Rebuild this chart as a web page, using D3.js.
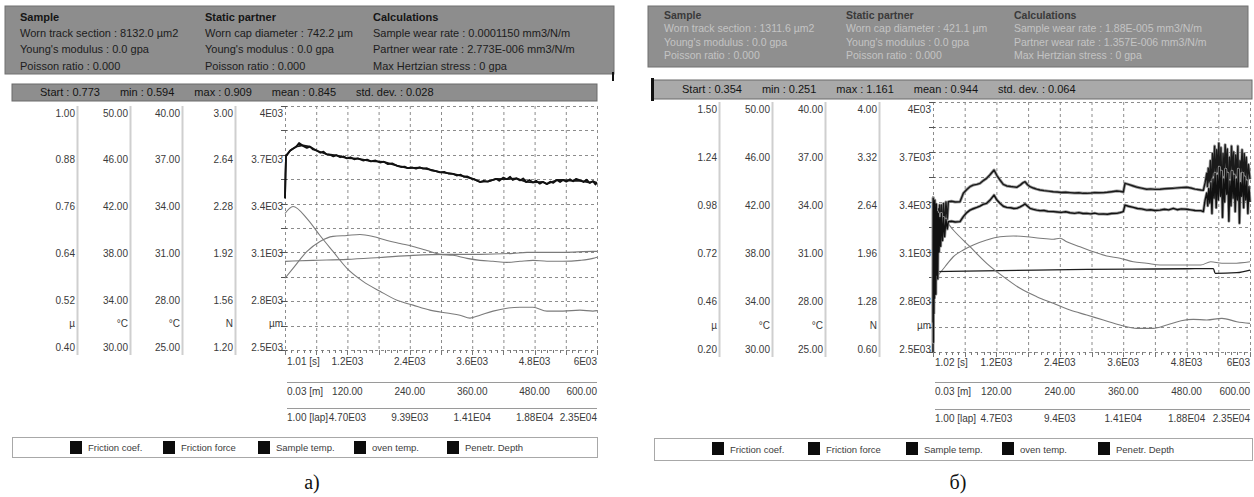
<!DOCTYPE html>
<html>
<head>
<meta charset="utf-8">
<script src="https://cdn.jsdelivr.net/npm/d3@7"></script>
<style>
  body { margin: 0; background: #fff; }
  svg text { font-family: "Liberation Sans", Arial, sans-serif; }
</style>
</head>
<body>
<svg id="chart" width="1254" height="497"></svg>
<script>
// ---------- shared ----------
const seriesNames = ["Friction coef.", "Friction force", "Sample temp.", "oven temp.", "Penetr. Depth"];
const colUnits = ["\u00b5", "\u00b0C", "\u00b0C", "N", "\u00b5m"];
const timeTicks = [0, 1200, 2400, 3600, 4800, 6000];
const distLabels = ["0.03 [m]", "120.00", "240.00", "360.00", "480.00", "600.00"];

// ---------- test a) ----------
const aHeader = [
  ["Sample", "Worn track section : 8132.0 \u00b5m2", "Young's modulus : 0.0 gpa", "Poisson ratio : 0.000"],
  ["Static partner", "Worn cap diameter : 742.2 \u00b5m", "Young's modulus : 0.0 gpa", "Poisson ratio : 0.000"],
  ["Calculations", "Sample wear rate : 0.0001150 mm3/N/m", "Partner wear rate : 2.773E-006 mm3/N/m", "Max Hertzian stress : 0 gpa"]
];
const aStats = ["Start : 0.773", "min : 0.594", "max : 0.909", "mean : 0.845", "std. dev. : 0.028"];
const aColCoef = ["0.40", "0.52", "0.64", "0.76", "0.88", "1.00"];
const aColSample = ["30.00", "34.00", "38.00", "42.00", "46.00", "50.00"];
const aColOven = ["25.00", "28.00", "31.00", "34.00", "37.00", "40.00"];
const aColForce = ["1.20", "1.56", "1.92", "2.28", "2.64", "3.00"];
const aColDepth = ["2.5E03", "2.8E03", "3.1E03", "3.4E03", "3.7E03", "4E03"];
const aTimeLabels = ["1.01 [s]", "1.2E03", "2.4E03", "3.6E03", "4.8E03", "6E03"];
const aLapLabels = ["1.00 [lap]", "4.70E03", "9.39E03", "1.41E04", "1.88E04", "2.35E04"];

// [time s, value]
const aFrictionCoef = [
  [0,0.773],[10,0.832],[20,0.878],[60,0.884],[96,0.890],[150,0.895],[210,0.899],[270,0.909],[346,0.902],
  [420,0.897],[480,0.900],[540,0.893],[615,0.890],[680,0.885],[740,0.888],[800,0.881],[865,0.880],
  [930,0.876],[990,0.879],[1060,0.874],[1130,0.876],[1192,0.871],[1260,0.874],[1330,0.869],[1400,0.871],
  [1500,0.866],[1580,0.868],[1650,0.864],[1740,0.866],[1827,0.861],[1900,0.863],[1980,0.857],[2060,0.859],
  [2154,0.853],[2230,0.850],[2300,0.851],[2365,0.847],[2440,0.849],[2520,0.846],[2590,0.849],[2654,0.846],
  [2730,0.847],[2810,0.842],[2900,0.840],[2981,0.837],[3060,0.838],[3140,0.834],[3231,0.833],[3300,0.829],
  [3380,0.831],[3440,0.826],[3500,0.827],[3580,0.822],[3650,0.819],[3750,0.813],[3820,0.816],[3900,0.814],
  [4000,0.818],[4060,0.821],[4120,0.816],[4200,0.824],[4269,0.820],[4330,0.826],[4380,0.818],[4450,0.822],
  [4519,0.817],[4580,0.822],[4640,0.813],[4700,0.818],[4769,0.812],[4830,0.816],[4900,0.809],[4960,0.813],
  [5038,0.808],[5100,0.814],[5160,0.811],[5230,0.818],[5290,0.813],[5346,0.818],[5410,0.814],[5480,0.820],
  [5540,0.815],[5600,0.821],[5673,0.817],[5740,0.813],[5800,0.819],[5860,0.811],[5923,0.815],[5970,0.807],[6000,0.811]
];
const aFrictionForce = [
  [0,2.319],[10,2.50],[20,2.63],[96,2.67],[210,2.70],[346,2.71],[480,2.70],[615,2.67],[800,2.645],
  [990,2.635],[1192,2.615],[1400,2.612],[1650,2.594],[1900,2.588],[2154,2.560],[2365,2.542],[2590,2.546],
  [2810,2.528],[2981,2.512],[3231,2.500],[3440,2.480],[3650,2.458],[3750,2.440],[3900,2.444],[4060,2.462],
  [4269,2.460],[4450,2.466],[4640,2.440],[4769,2.437],[4960,2.440],[5038,2.425],[5230,2.454],[5346,2.454],
  [5540,2.447],[5673,2.450],[5860,2.435],[5923,2.445],[6000,2.433]
];
const aSampleTemp = [
  [0,35.88],[154,36.69],[423,38.08],[673,38.90],[923,39.31],[1192,39.39],[1442,39.47],[1692,39.31],
  [1962,38.98],[2212,38.73],[2462,38.49],[2731,38.16],[2981,37.84],[3231,37.76],[3500,37.51],[3750,37.35],
  [4000,37.27],[4269,37.18],[4519,37.27],[4769,37.35],[5038,37.27],[5346,37.27],[5673,37.35],[5923,37.51],[6000,37.60]
];
const aOvenTemp = [
  [0,30.45],[538,30.51],[1192,30.57],[1827,30.69],[2462,30.82],[3115,30.88],[3750,30.88],[4385,30.94],
  [4654,31.00],[5346,31.00],[5923,31.06],[6000,31.06]
];
const aDepth = [
  [0,3339],[154,3382],[423,3308],[673,3204],[923,3106],[1192,3002],[1500,2922],[1827,2861],[2154,2806],
  [2462,2776],[2788,2745],[3115,2727],[3365,2714],[3558,2696],[3750,2714],[4000,2739],[4269,2757],
  [4519,2763],[4769,2763],[5038,2739],[5346,2739],[5673,2745],[5923,2739],[6000,2742]
];

// ---------- test б) ----------
const bHeader = [
  ["Sample", "Worn track section : 1311.6 \u00b5m2", "Young's modulus : 0.0 gpa", "Poisson ratio : 0.000"],
  ["Static partner", "Worn cap diameter : 421.1 \u00b5m", "Young's modulus : 0.0 gpa", "Poisson ratio : 0.000"],
  ["Calculations", "Sample wear rate : 1.88E-005 mm3/N/m", "Partner wear rate : 1.357E-006 mm3/N/m", "Max Hertzian stress : 0 gpa"]
];
const bStats = ["Start : 0.354", "min : 0.251", "max : 1.161", "mean : 0.944", "std. dev. : 0.064"];
const bColCoef = ["0.20", "0.46", "0.72", "0.98", "1.24", "1.50"];
const bColSample = ["30.00", "34.00", "38.00", "42.00", "46.00", "50.00"];
const bColOven = ["25.00", "28.00", "31.00", "34.00", "37.00", "40.00"];
const bColForce = ["0.60", "1.28", "1.96", "2.64", "3.32", "4.00"];
const bColDepth = ["2.5E03", "2.8E03", "3.1E03", "3.4E03", "3.7E03", "4E03"];
const bTimeLabels = ["1.02 [s]", "1.2E03", "2.4E03", "3.6E03", "4.8E03", "6E03"];
const bLapLabels = ["1.00 [lap]", "4.7E03", "9.4E03", "1.41E04", "1.88E04", "2.35E04"];

const bFrictionCoef = [
  [0,0.354],[4,1.000],[8,0.251],[12,0.980],[17,0.400],[22,0.960],[28,0.480],[34,0.990],[40,0.550],
  [47,0.950],[54,0.500],[62,0.970],[70,0.600],[80,0.930],[90,0.580],[100,0.920],[115,0.720],[130,0.900],
  [145,0.750],[160,0.920],[180,0.780],[200,0.900],[220,0.800],[245,0.890],[270,0.840],[290,0.878],
  [350,0.880],[420,0.876],[511,0.878],[574,0.904],[640,0.925],[700,0.938],[760,0.945],[830,0.952],
  [890,0.959],[950,0.968],[1016,0.973],[1080,0.990],[1155,1.016],[1210,0.990],[1268,0.973],[1330,0.958],
  [1395,0.952],[1470,0.950],[1530,0.946],[1585,0.947],[1650,0.955],[1700,0.962],[1742,0.970],[1790,0.958],
  [1836,0.947],[1900,0.942],[1960,0.938],[2026,0.935],[2100,0.936],[2180,0.931],[2277,0.930],[2350,0.928],
  [2430,0.926],[2510,0.929],[2593,0.924],[2680,0.921],[2760,0.925],[2840,0.920],[2910,0.921],[2990,0.918],
  [3060,0.922],[3140,0.917],[3224,0.918],[3300,0.916],[3380,0.920],[3478,0.921],[3540,0.925],[3602,0.930],
  [3634,0.964],[3700,0.958],[3792,0.952],[3870,0.946],[3950,0.944],[4045,0.938],[4120,0.940],[4200,0.936],
  [4297,0.938],[4380,0.942],[4460,0.939],[4549,0.947],[4620,0.940],[4700,0.944],[4803,0.942],[4880,0.939],
  [4960,0.936],[5068,0.935],[5117,0.930],[5150,0.990],[5181,1.027],[5200,0.960],[5220,1.050],[5240,0.975],
  [5260,1.080],[5280,0.920],[5300,1.100],[5320,1.000],[5340,1.130],[5360,0.950],[5380,1.120],[5400,0.990],
  [5420,1.161],[5440,1.010],[5460,1.140],[5480,0.900],[5500,1.100],[5520,0.980],[5540,1.150],[5560,1.020],
  [5580,1.130],[5600,0.880],[5620,1.090],[5640,0.960],[5660,1.140],[5680,1.000],[5700,1.120],[5720,0.930],
  [5740,1.100],[5760,0.990],[5780,1.150],[5800,0.870],[5820,1.080],[5840,1.010],[5860,1.130],[5880,0.950],
  [5900,1.110],[5920,0.990],[5940,1.090],[5960,0.920],[5980,1.060],[6000,0.980]
];
const bFrictionForce = [
  [0,0.60],[5,2.70],[10,1.50],[15,2.60],[22,1.60],[30,2.65],[38,1.70],[46,2.50],[55,1.90],[65,2.60],
  [80,2.00],[95,2.55],[110,2.10],[125,2.60],[140,2.20],[160,2.60],[180,2.25],[200,2.62],[220,2.30],
  [245,2.64],[270,2.40],[290,2.644],[350,2.650],[420,2.640],[511,2.644],[574,2.758],[640,2.810],[700,2.848],
  [760,2.870],[830,2.880],[890,2.894],[950,2.930],[1016,2.962],[1080,3.010],[1155,3.075],[1210,3.000],
  [1268,2.939],[1330,2.880],[1395,2.858],[1470,2.850],[1530,2.845],[1585,2.840],[1650,2.870],[1700,2.900],
  [1742,2.916],[1790,2.875],[1836,2.848],[1900,2.830],[1960,2.815],[2026,2.803],[2100,2.795],[2180,2.788],
  [2277,2.780],[2350,2.776],[2430,2.770],[2510,2.772],[2593,2.767],[2680,2.762],[2760,2.766],[2840,2.758],
  [2910,2.758],[2990,2.762],[3060,2.768],[3140,2.765],[3224,2.767],[3300,2.772],[3380,2.780],[3478,2.790],
  [3540,2.785],[3602,2.776],[3634,2.894],[3700,2.880],[3792,2.858],[3870,2.840],[3950,2.828],[4045,2.813],
  [4120,2.818],[4200,2.812],[4297,2.813],[4380,2.820],[4460,2.824],[4549,2.826],[4620,2.832],[4700,2.836],
  [4803,2.840],[4880,2.830],[4960,2.815],[5068,2.803],[5117,2.800],[5150,2.900],[5181,3.030],[5195,2.85],
  [5210,3.10],[5230,2.90],[5250,3.20],[5270,2.75],[5290,3.30],[5310,3.00],[5330,3.40],[5350,2.90],
  [5370,3.35],[5390,3.05],[5410,3.44],[5430,2.95],[5450,3.38],[5470,2.70],[5490,3.30],[5510,3.00],
  [5530,3.42],[5550,3.10],[5570,3.36],[5590,2.66],[5610,3.25],[5630,2.95],[5650,3.40],[5670,3.05],
  [5690,3.32],[5710,2.80],[5730,3.28],[5750,3.00],[5770,3.40],[5790,2.68],[5810,3.20],[5830,3.05],
  [5850,3.35],[5870,2.90],[5890,3.30],[5910,3.00],[5930,3.25],[5950,2.85],[5970,3.15],[6000,2.95]
];
const bSampleTemp = [
  [0,35.60],[227,36.82],[384,37.62],[574,38.16],[763,38.56],[1016,38.96],[1268,39.22],[1520,39.28],
  [1774,39.22],[2026,39.10],[2277,39.02],[2404,39.10],[2531,38.82],[2783,38.42],[3035,38.02],[3288,37.68],
  [3540,37.50],[3792,37.22],[4045,37.10],[4297,36.96],[4549,36.96],[4803,36.96],[5068,36.96],[5257,37.22],
  [5469,37.10],[5685,37.10],[6000,37.22]
];
const bOvenTemp = [
  [0,29.82],[1963,29.91],[2910,29.96],[4170,29.98],[5306,30.00],[5342,29.72],[5749,29.76],[6000,29.92]
];
const bDepth = [
  [0,3340],[120,3318],[227,3292],[384,3232],[700,3132],[1016,3032],[1331,2952],[1647,2882],[1963,2832],
  [2277,2792],[2593,2752],[2910,2722],[3224,2692],[3540,2662],[3856,2642],[4170,2642],[4424,2662],
  [4697,2688],[4928,2696],[5181,2692],[5469,2702],[5749,2682],[6000,2672]
];

// ---------- drawing ----------
const svg = d3.select("#chart");
const num = s => parseFloat(s.replace("E", "e"));

function drawPanel(p) {
  const g = svg.append("g");

  // parameter header
  g.append("rect").attr("x", p.hdr[0]).attr("y", p.hdr[1]).attr("width", p.hdr[2]).attr("height", p.hdr[3])
    .attr("fill", p.hdrFill).attr("stroke", "#707070").attr("stroke-width", 1);
  p.header.forEach((col, i) => col.forEach((line, j) => {
    g.append("text").attr("x", p.hdrCols[i]).attr("y", p.hdrRows[j]).attr("dy", "0.35em")
      .attr("font-size", p.hdrSize).attr("font-weight", j === 0 ? "bold" : "normal")
      .attr("fill", j === 0 ? p.hdrTitle : p.hdrText).text(line);
  }));

  // statistics bar
  g.append("rect").attr("x", p.bar[0]).attr("y", p.bar[1]).attr("width", p.bar[2]).attr("height", p.bar[3])
    .attr("fill", p.barFill).attr("stroke", "#6a6a6a");
  let sx = p.barText;
  p.stats.forEach(s => {
    const t = g.append("text").attr("x", sx).attr("y", p.bar[1] + p.bar[3] / 2).attr("dy", "0.35em")
      .attr("font-size", 11).attr("fill", "#141414").text(s);
    sx += t.node().getComputedTextLength() + p.barGap;
  });
  p.marks.forEach(m => g.append("rect").attr("x", m[0]).attr("y", m[1]).attr("width", m[2]).attr("height", m[3]).attr("fill", "#111"));

  // scales
  const x = d3.scaleLinear().domain([0, 6000]).range([p.x0, p.x1]);
  const yOf = col => d3.scaleLinear().domain([num(col[0]), num(col[col.length - 1])]).range([p.y1, p.y0]);
  const yLab = d3.scaleLinear().domain([0, 5]).range([p.y1 - 3, p.y0 + 7]);

  // grid
  const grid = g.append("g").attr("stroke", "#8c8c8c").attr("stroke-width", 1).attr("stroke-dasharray", "3,3");
  d3.range(0, 6001, 600).forEach(t => grid.append("line").attr("x1", x(t) + 0.5).attr("x2", x(t) + 0.5)
    .attr("y1", p.y0).attr("y2", p.y1));
  const yFrac = d3.scaleLinear().domain([0, 10]).range([p.y1, p.y0]);
  d3.range(0, 11).forEach(k => grid.append("line").attr("x1", p.x0).attr("x2", p.x1)
    .attr("y1", Math.round(yFrac(k)) + 0.5).attr("y2", Math.round(yFrac(k)) + 0.5));
  // left edge ticks
  d3.range(0, 11).forEach(k => g.append("line").attr("x1", p.x0 - 4).attr("x2", p.x0 + 2)
    .attr("y1", Math.round(yFrac(k)) + 0.5).attr("y2", Math.round(yFrac(k)) + 0.5).attr("stroke", "#555"));
  // bottom ruler
  d3.range(0, 6001, 120).forEach(t => g.append("line").attr("x1", Math.round(x(t)) + 0.5).attr("x2", Math.round(x(t)) + 0.5)
    .attr("y1", p.y1).attr("y2", p.y1 + (t % 600 === 0 ? 5 : 3)).attr("stroke", "#777"));

  // value columns
  const cols = p.cols;
  cols.forEach((col, i) => {
    const rx = p.colRight[i];
    col.forEach((lab, k) => g.append("text").attr("x", rx).attr("y", yLab(k)).attr("dy", "0.35em")
      .attr("text-anchor", "end").attr("font-size", 10).attr("fill", "#3a3a3a").text(lab));
    g.append("text").attr("x", rx).attr("y", yLab(0.5)).attr("dy", "0.35em")
      .attr("text-anchor", "end").attr("font-size", 10).attr("fill", "#3a3a3a").text(colUnits[i]);
    if (i < cols.length - 1) g.append("line").attr("x1", rx + 2.5).attr("x2", rx + 2.5)
      .attr("y1", p.y0).attr("y2", p.y1 + 5).attr("stroke", "#cfcfcf").attr("stroke-width", 2);
  });

  // time / distance / lap rows
  const rows = [[p.timeLabels, p.rowY[0], false], [distLabels, p.rowY[1], true], [p.lapLabels, p.rowY[2], true]];
  rows.forEach(([labels, ry, rule]) => {
    if (rule) g.append("line").attr("x1", p.x0 + 2).attr("x2", p.x1).attr("y1", ry - 8.5).attr("y2", ry - 8.5)
      .attr("stroke", "#9a9a9a");
    labels.forEach((lab, k) => {
      const anchor = k === 0 ? "start" : (k === labels.length - 1 ? "end" : "middle");
      const tx = k === 0 ? x(timeTicks[k]) + 2 : x(timeTicks[k]);
      g.append("text").attr("x", tx).attr("y", ry).attr("dy", "0.35em").attr("text-anchor", anchor)
        .attr("font-size", 10).attr("fill", "#3a3a3a").text(lab);
    });
  });

  // curves
  const plot = g.append("g");
  const draw = (data, col, stroke, width, curve, halo) => {
    const y = yOf(col);
    const line = d3.line().x(d => x(d[0])).y(d => y(d[1])).curve(curve);
    if (halo) plot.append("path").datum(data).attr("d", line).attr("fill", "none")
      .attr("stroke", "#9a9a9a").attr("stroke-width", halo).attr("stroke-linejoin", "round");
    plot.append("path").datum(data).attr("d", line).attr("fill", "none")
      .attr("stroke", stroke).attr("stroke-width", width).attr("stroke-linejoin", "round");
  };
  draw(p.sample, cols[1], "#7b7b7b", 1.1, d3.curveMonotoneX);
  draw(p.oven, cols[2], p.ovenColor, p.ovenWidth, d3.curveMonotoneX);
  draw(p.depth, cols[4], "#7b7b7b", 1.1, d3.curveMonotoneX);
  draw(p.force, cols[3], "#1a1a1a", p.thick, d3.curveLinear, p.halo);
  draw(p.coef, cols[0], "#111", p.thick, d3.curveLinear, p.halo);

  // legend
  g.append("rect").attr("x", p.leg[0] + 0.5).attr("y", p.leg[1] + 0.5).attr("width", p.leg[2]).attr("height", p.leg[3])
    .attr("fill", "#fff").attr("stroke", "#a8a8a8");
  seriesNames.forEach((name, i) => {
    const lx = p.legX[i];
    g.append("rect").attr("x", lx).attr("y", p.leg[1] + 4).attr("width", 12).attr("height", 13).attr("fill", "#0c0c0c");
    g.append("text").attr("x", lx + 18).attr("y", p.leg[1] + p.leg[3] / 2 + 0.5).attr("dy", "0.35em")
      .attr("font-size", 9.5).attr("fill", "#3c3c3c").text(name);
  });

  // caption
  svg.append("text").attr("x", p.cap[0]).attr("y", p.cap[1]).attr("text-anchor", "middle")
    .attr("font-family", "'Liberation Serif', 'Times New Roman', serif").attr("font-size", 20).attr("fill", "#111")
    .style("font-family", "'Liberation Serif', 'Times New Roman', serif").text(p.caption);
}

drawPanel({
  header: aHeader, stats: aStats,
  hdr: [5, 6, 609, 68], hdrFill: "#8d8d8d", hdrTitle: "#151515", hdrText: "#1c1c1c", hdrSize: 11,
  hdrCols: [20, 205, 373], hdrRows: [17, 33, 49, 66],
  bar: [12, 84, 585, 17], barFill: "#8e8e8e", barText: 40, barGap: 20,
  marks: [[612, 72, 2, 9]],
  x0: 285, x1: 597, y0: 106, y1: 350,
  cols: [aColCoef, aColSample, aColOven, aColForce, aColDepth], colRight: [75, 128, 180, 233, 283],
  timeLabels: aTimeLabels, lapLabels: aLapLabels, rowY: [361, 391, 417],
  coef: aFrictionCoef, force: aFrictionForce, sample: aSampleTemp, oven: aOvenTemp, depth: aDepth,
  ovenColor: "#7b7b7b", ovenWidth: 1.1, thick: 1.8, halo: 0,
  leg: [12, 437, 585, 20], legX: [70, 163, 258, 354, 447],
  cap: [312, 489], caption: "a)"
});

drawPanel({
  header: bHeader, stats: bStats,
  hdr: [648, 6, 600, 61], hdrFill: "#8f8f8f", hdrTitle: "#3a3a3a", hdrText: "#c4c4c4", hdrSize: 10.5,
  hdrCols: [664, 846, 1014], hdrRows: [15, 28.5, 42, 55.5],
  bar: [652, 80, 600, 19], barFill: "#a9a9a9", barText: 682, barGap: 20,
  marks: [[651, 78, 3, 23]],
  x0: 933, x1: 1250, y0: 102, y1: 352,
  cols: [bColCoef, bColSample, bColOven, bColForce, bColDepth], colRight: [717, 770, 823, 877, 931],
  timeLabels: bTimeLabels, lapLabels: bLapLabels, rowY: [362, 391, 418],
  coef: bFrictionCoef, force: bFrictionForce, sample: bSampleTemp, oven: bOvenTemp, depth: bDepth,
  ovenColor: "#1e1e1e", ovenWidth: 1.3, thick: 1.4, halo: 3,
  leg: [654, 438, 598, 22], legX: [712, 808, 906, 1002, 1098],
  cap: [958, 489], caption: "\u0431)"
});
</script>
</body>
</html>
